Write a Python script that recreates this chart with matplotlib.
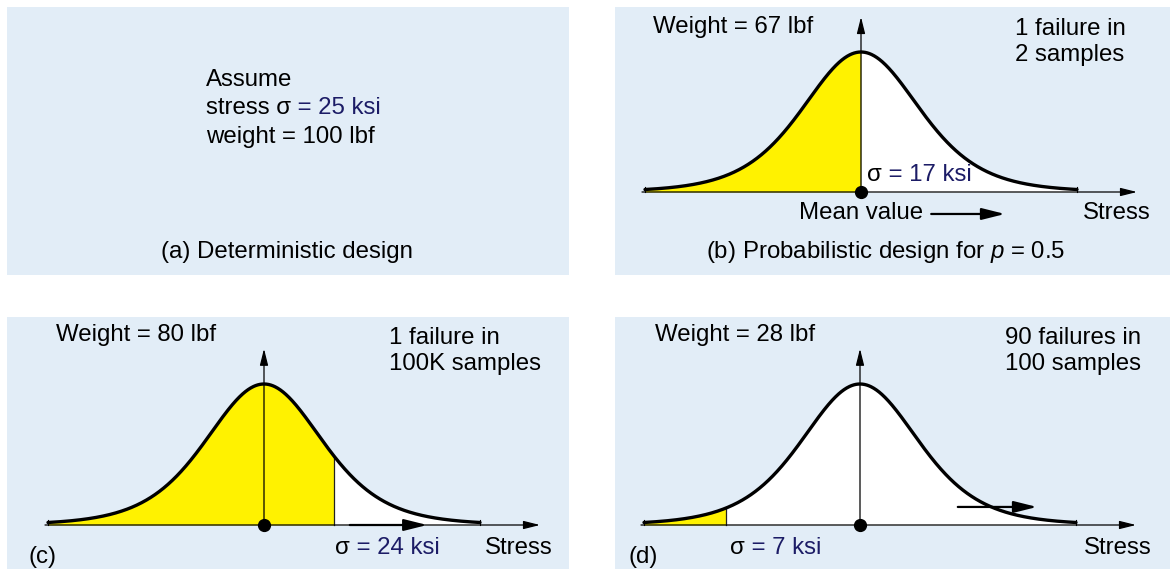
import numpy as np
import matplotlib
matplotlib.use('Agg')
import matplotlib.pyplot as plt
from matplotlib.transforms import Affine2D

plt.rcParams['font.family'] = ['Liberation Sans', 'DejaVu Sans']
plt.rcParams['mathtext.fontset'] = 'custom'
plt.rcParams['mathtext.rm'] = 'Liberation Sans'
plt.rcParams['mathtext.it'] = 'Liberation Sans:italic'

# ---------------- data ----------------
panel_labels = ['(a) Deterministic design', '(b) Probabilistic design for $p$ = 0.5', '(c)', '(d)']
stress_ksi = [25, 17, 24, 7]          # (a), (b), (c), (d)
weight_lbf = [100, 67, 80, 28]
failure_text = ['1 failure in\n2 samples', '1 failure in\n100K samples', '90 failures in\n100 samples']
cutoff_z = [0.0, 1.17, -2.23]          # yellow region ends here (in curve scale units)
tail_z = 3.6                           # curve drawn from -tail_z to +tail_z
bell_df = 6                            # shape of the bell curve
axis_label = 'Stress'
mean_label = 'Mean value'

# ---------------- style / layout ----------------
W, H = 1170, 569
BG = '#e2edf7'
YEL = '#fff200'
NAVY = '#1c1c66'
FS = 17.3

fig = plt.figure(figsize=(W / 100, H / 100), dpi=100)
fig.patch.set_facecolor('white')
pix = Affine2D().scale(1 / W, -1 / H).translate(0, 1) + fig.transFigure


def panel(x0, y0, x1, y1):
    ax = fig.add_axes([x0 / W, 1 - y1 / H, (x1 - x0) / W, (y1 - y0) / H])
    ax.set_facecolor(BG)
    ax.set_xticks([])
    ax.set_yticks([])
    for s in ax.spines.values():
        s.set_visible(False)
    return ax


def ptext(x, y, s, color='black', ha='left', va='center', **kw):
    return fig.text(x, y, s, transform=pix, color=color, ha=ha, va=va, fontsize=FS, **kw)


def follow(ax, prev, s, color=NAVY):
    return ax.annotate(s, xy=(1, 0), xycoords=prev, ha='left', va='bottom',
                       fontsize=FS, color=color, annotation_clip=False)


def bell(z):
    return (1 + z ** 2 / bell_df) ** (-(bell_df + 1) / 2)


def curve_panel(x0, y0, x1, y1, mean_px, base_px, peak_px, cut):
    ax = panel(x0, y0, x1, y1)
    sx = 60.0
    ax.set_xlim((x0 - mean_px) / sx, (x1 - mean_px) / sx)
    ax.set_ylim(-(y1 - base_px) / peak_px, (base_px - y0) / peak_px)
    zl = np.linspace(-tail_z, cut, 300)
    zr = np.linspace(cut, tail_z, 300)
    ax.fill_between(zl, 0, bell(zl), color=YEL, lw=0, zorder=1)
    ax.fill_between(zr, 0, bell(zr), color='white', lw=0, zorder=1)
    if cut != 0:
        ax.plot([cut, cut], [0, bell(cut)], color='#222222', lw=0.9, zorder=2)
    z = np.linspace(-tail_z, tail_z, 800)
    ax.plot(z, bell(z), color='black', lw=2.4, zorder=3, solid_capstyle='round')
    # baseline axis with arrow
    ax.annotate('', xy=(4.6, 0), xytext=(-3.65, 0),
                arrowprops=dict(arrowstyle='-|>,head_length=1.0,head_width=0.25',
                                mutation_scale=10, lw=0.9, color='black',
                                shrinkA=0, shrinkB=0), zorder=4)
    for t in (-tail_z, tail_z):
        ax.plot([t, t], [0, 0.035], color='black', lw=0.8, zorder=4)
    # vertical arrow
    ax.annotate('', xy=(0, 1.25), xytext=(0, 0),
                arrowprops=dict(arrowstyle='-|>,head_length=1.0,head_width=0.25',
                                mutation_scale=10, lw=0.9, color='black',
                                shrinkA=0, shrinkB=0), zorder=4)
    ax.plot(0, 0, 'o', ms=8.5, color='black', zorder=6, clip_on=False)
    return ax


def big_arrow(ax, xa, xb, y):
    ax.annotate('', xy=(xb, y), xytext=(xa, y),
                arrowprops=dict(arrowstyle='-|>,head_length=1.4,head_width=0.35',
                                mutation_scale=10, lw=1.6, color='black',
                                shrinkA=0, shrinkB=0), zorder=5)


# ---------------- (a) ----------------
axa = panel(7, 7, 569, 275)
ptext(206, 80, 'Assume')
t = ptext(206, 108, 'stress σ')
follow(axa, t, ' = %d ksi' % stress_ksi[0])
ptext(206, 137, 'weight = %d lbf' % weight_lbf[0])
ptext(287, 252, panel_labels[0], ha='center')

# ---------------- (b) ----------------
axb = curve_panel(615, 7, 1170, 275, 861, 192, 140, cutoff_z[0])
ptext(653, 27, 'Weight = %d lbf' % weight_lbf[1])
ptext(1015, 42, failure_text[0], linespacing=1.22)
t = ptext(867, 175, 'σ')
follow(axb, t, ' = %d ksi' % stress_ksi[1])
ptext(799, 213, mean_label)
big_arrow(axb, 1.17, 2.4, -0.157)
ptext(1083, 213, axis_label)
ptext(886, 252, panel_labels[1], ha='center')

# ---------------- (c) ----------------
axc = curve_panel(7, 317, 569, 569, 264, 525, 141, cutoff_z[1])
ptext(56, 335, 'Weight = %d lbf' % weight_lbf[2])
ptext(389, 351, failure_text[1], linespacing=1.22)
t = ptext(335, 548, 'σ')
follow(axc, t, ' = %d ksi' % stress_ksi[2])
big_arrow(axc, 1.43, 2.72, 0.0)
ptext(485, 548, axis_label)
ptext(28, 557, panel_labels[2])

# ---------------- (d) ----------------
axd = curve_panel(615, 317, 1170, 569, 860, 525, 141, cutoff_z[2])
ptext(655, 335, 'Weight = %d lbf' % weight_lbf[3])
ptext(1005, 351, failure_text[2], linespacing=1.22)
t = ptext(730, 548, 'σ')
follow(axd, t, ' = %d ksi' % stress_ksi[3])
big_arrow(axd, 1.63, 2.95, 0.128)
ptext(1084, 548, axis_label)
ptext(628, 557, panel_labels[3])

fig.savefig('out.png', dpi=100, facecolor='white')
